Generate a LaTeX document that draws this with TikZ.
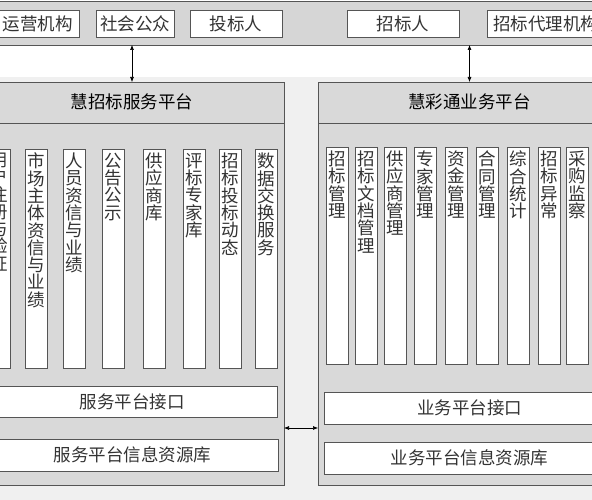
\documentclass[tikz,border=0pt]{standalone}
\usepackage{fontspec}
\setmainfont{Noto Sans CJK SC}
\usetikzlibrary{arrows.meta}
\definecolor{bandgray}{HTML}{D6D6D6}
\definecolor{panelgray}{HTML}{D9D9D9}
\definecolor{pagegray}{HTML}{F0F0F0}
\definecolor{edge}{HTML}{555555}
\definecolor{ink}{HTML}{333333}
\begin{document}
\begin{tikzpicture}[x=1pt,y=-1pt,
  every node/.style={inner sep=0pt, outer sep=0pt},
  frame/.style={draw=edge, line width=0.8pt, anchor=north west},
  wbox/.style={frame, fill=white, font=\fontsize{17.5}{17.3}\selectfont, text=ink},
  pbox/.style={frame, fill=panelgray},
  colbox/.style={frame, fill=white, minimum width=22pt},
  coltext/.style={anchor=north, align=center, text=ink, yshift=-4pt,
    font=\fontsize{17.5}{17.3}\selectfont},
  ttl/.style={font=\fontsize{17.5}{17.3}\selectfont, text=black},
  arr/.style={{Latex[length=5pt,width=4pt]}-{Latex[length=5pt,width=4pt]}, line width=0.6pt, draw=black}
]
\useasboundingbox (0,0) rectangle (592,500);
\clip (0,0) rectangle (592,500);
\fill[white] (0,0) rectangle (592,77);
\fill[pagegray] (0,77) rectangle (592,500);

% top band
\node[frame, fill=bandgray, minimum width=640pt, minimum height=44pt] (band) at (-20,1) {};
\node[wbox, minimum width=83pt, minimum height=27pt] (yy) at (-4,10) {运营机构};
\node[wbox, minimum width=78pt, minimum height=27pt] (sh) at (96,10) {社会公众};
\node[wbox, minimum width=92pt, minimum height=27pt] (tb) at (190,10) {投标人};
\node[wbox, minimum width=112pt, minimum height=27pt] (zb) at (347,10) {招标人};
\node[wbox, minimum width=120pt, minimum height=27pt, text width=114pt, align=left] (dl) at (487,10) {\hspace{3pt}招标代理机构};

% panels
\node[pbox, minimum width=304pt, minimum height=403pt] (lp) at (-20,82) {};
\node[pbox, minimum width=303pt, minimum height=403pt] (rp) at (318,82) {};
\draw[edge, line width=0.8pt] (lp.north west |- 0,123) coordinate (lpd) -- (lp.north east |- 0,123);
\draw[edge, line width=0.8pt] (rp.north west |- 0,123) coordinate (rpd) -- (rp.north east |- 0,123);
\node[ttl] (lt) at (132,102) {慧招标服务平台};
\node[ttl] (rt) at (469.5,102) {慧彩通业务平台};

% left columns
\foreach \n/\x/\t in {l0/-12/用\\户\\注\\册\\与\\验\\证,
  l1/25/市\\场\\主\\体\\资\\信\\与\\业\\绩,
  l2/63/人\\员\\资\\信\\与\\业\\绩,
  l3/102/公\\告\\公\\示,
  l4/143/供\\应\\商\\库,
  l5/183/评\\标\\专\\家\\库,
  l6/219/招\\标\\投\\标\\动\\态,
  l7/255/数\\据\\交\\换\\服\\务}{
  \node[colbox, minimum height=219pt] (\n) at (\x,149) {};
  \node[coltext] (\n t) at (\n.north) {\t};
}
% right columns
\foreach \n/\x/\t in {r0/326/招\\标\\管\\理,
  r1/355/招\\标\\文\\档\\管\\理,
  r2/384/供\\应\\商\\管\\理,
  r3/414/专\\家\\管\\理,
  r4/445/资\\金\\管\\理,
  r5/476/合\\同\\管\\理,
  r6/507/综\\合\\统\\计,
  r7/538/招\\标\\异\\常,
  r8/566/采\\购\\监\\察}{
  \node[colbox, minimum height=217pt] (\n) at (\x,147) {};
  \node[coltext] (\n t) at (\n.north) {\t};
}

% bottom boxes
\node[wbox, minimum width=290pt, minimum height=31pt] (lif) at (-13,386) {服务平台接口};
\node[wbox, minimum width=291pt, minimum height=32pt] (ldb) at (-13,439) {服务平台信息资源库};
\node[wbox, minimum width=291pt, minimum height=32pt] (rif) at (324,392) {业务平台接口};
\node[wbox, minimum width=291pt, minimum height=32pt] (rdb) at (324,442) {业务平台信息资源库};

% connectors
\draw[arr] (band.south -| lp.north) -- (lp.north);
\draw[arr] (band.south -| rp.north) -- (rp.north);
\coordinate (hy) at (0,428);
\draw[arr] (lp.east |- hy) -- (rp.west |- hy);
\end{tikzpicture}
\end{document}
